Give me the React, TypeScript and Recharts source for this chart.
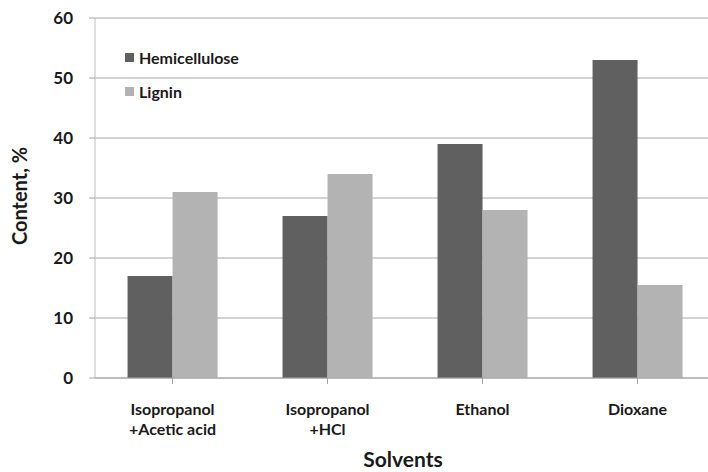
import React from "react";
import { BarChart, Bar, XAxis, YAxis, CartesianGrid, Label } from "recharts";

const solvents = ["Isopropanol\n+Acetic acid", "Isopropanol\n+HCl", "Ethanol", "Dioxane"];
const hemicellulose = [17, 27, 39, 53];
const lignin = [31, 34, 28, 15.5];
const yTicks = [0, 10, 20, 30, 40, 50, 60];

const data = solvents.map((s, i) => ({
  solvent: s,
  Hemicellulose: hemicellulose[i],
  Lignin: lignin[i],
}));

const FONT = "Lato, 'Open Sans', sans-serif";
const DARK = "#606060";
const LIGHT = "#b3b3b3";
const series = [
  { key: "Hemicellulose", color: DARK },
  { key: "Lignin", color: LIGHT },
];

const CategoryTick = (props: any) => {
  const { x, y, payload } = props;
  const lines = String(payload.value).split("\n");
  return (
    <text x={x} y={y} textAnchor="middle" fontFamily={FONT} fontSize={16} fontWeight={700} fill="#1a1a1a">
      {lines.map((ln, i) => (
        <tspan key={i} x={x} dy={i === 0 ? 29 : 20}>
          {ln}
        </tspan>
      ))}
    </text>
  );
};

export default function App() {
  return (
    <div style={{ position: "absolute", left: 0, top: 0, width: 708, height: 472, overflow: "hidden", background: "#fff" }}>
      <BarChart
        width={716}
        height={472}
        data={data}
        margin={{ top: 18, right: 1, bottom: 0, left: 0 }}
        barCategoryGap="21%"
        barGap={0}
      >
        <CartesianGrid vertical={false} stroke="#a6a6a6" />
        <XAxis
          dataKey="solvent"
          height={94}
          interval={0}
          tick={<CategoryTick />}
          tickSize={6}
          axisLine={{ stroke: "#a6a6a6" }}
          tickLine={{ stroke: "#a6a6a6" }}
        >
          <Label
            content={() => (
              <text x={403} y={467} textAnchor="middle" fontFamily={FONT} fontSize={21} fontWeight={700} fill="#1a1a1a">
                Solvents
              </text>
            )}
          />
        </XAxis>
        <YAxis
          width={95}
          domain={[0, 60]}
          ticks={yTicks}
          tickSize={6}
          tickMargin={16}
          axisLine={{ stroke: "#bfbfbf" }}
          tickLine={{ stroke: "#a6a6a6" }}
          tick={{ fontFamily: FONT, fontSize: 17, fontWeight: 700, fill: "#1a1a1a" }}
        >
          <Label
            content={() => (
              <text
                x={27}
                y={196}
                transform="rotate(-90 27 196)"
                textAnchor="middle"
                fontFamily={FONT}
                fontSize={20}
                fontWeight={700}
                fill="#1a1a1a"
              >
                Content, %
              </text>
            )}
          />
        </YAxis>
        <Bar dataKey="Hemicellulose" fill={DARK} isAnimationActive={false} />
        <Bar dataKey="Lignin" fill={LIGHT} isAnimationActive={false} />
      </BarChart>
      <div style={{ position: "absolute", left: 125, top: 40, fontFamily: FONT, fontSize: 16, fontWeight: 700, color: "#1a1a1a" }}>
        {series.map((s) => (
          <div key={s.key} style={{ display: "flex", alignItems: "center", height: 34 }}>
            <span style={{ width: 9, height: 9, background: s.color, display: "inline-block", marginRight: 5 }} />
            {s.key}
          </div>
        ))}
      </div>
    </div>
  );
}
